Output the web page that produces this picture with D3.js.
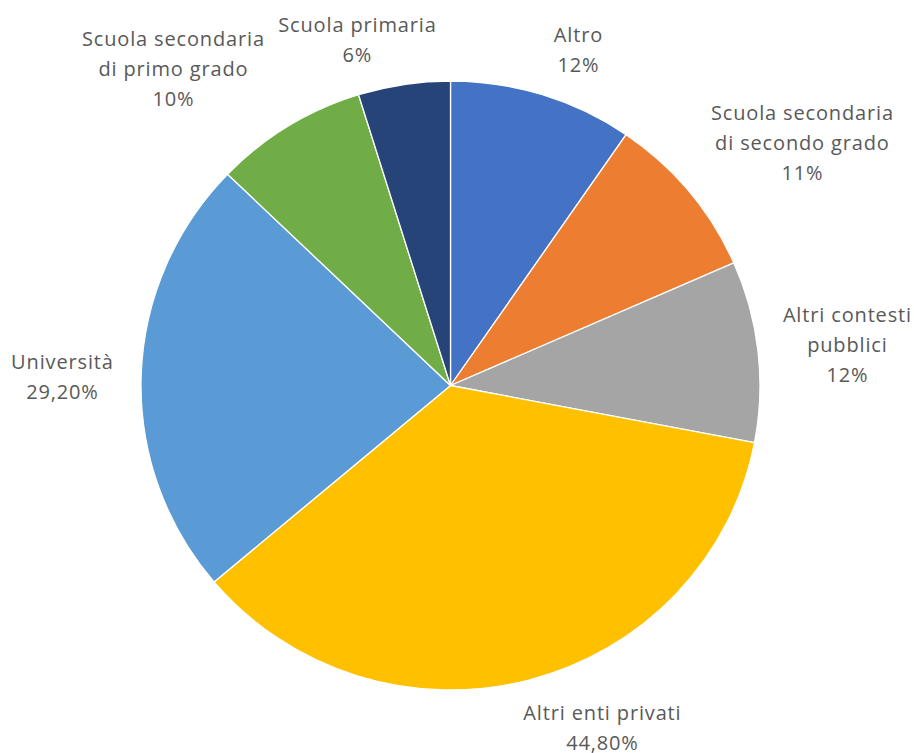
<!DOCTYPE html>
<html>
<head>
<meta charset="utf-8">
<script src="https://cdn.jsdelivr.net/npm/d3@7"></script>
<style>
  html, body { margin: 0; padding: 0; background: #ffffff; }
  svg { display: block; }
</style>
</head>
<body>
<svg id="chart" width="914" height="753"></svg>
<script>
const categories = [
  "Altro",
  "Scuola secondaria di secondo grado",
  "Altri contesti pubblici",
  "Altri enti privati",
  "Università",
  "Scuola secondaria di primo grado",
  "Scuola primaria"
];
const values = [12, 11, 12, 44.8, 29.2, 10, 6];
const valueLabels = ["12%", "11%", "12%", "44,80%", "29,20%", "10%", "6%"];
const labelLines = [
  ["Altro"],
  ["Scuola secondaria", "di secondo grado"],
  ["Altri contesti", "pubblici"],
  ["Altri enti privati"],
  ["Università"],
  ["Scuola secondaria", "di primo grado"],
  ["Scuola primaria"]
];
const colors = ["#4472C4", "#ED7D31", "#A5A5A5", "#FFC000", "#5B9BD5", "#70AD47", "#264478"];
// label anchor positions (centre of the text block, first line)
const labelPos = [
  [578, 35], [802, 113], [847, 315], [602, 713], [62, 362], [173, 39], [357, 25]
];

const svg = d3.select("#chart");
const cx = 450.5, cy = 385.5, R = 309.5, ry = 304.5;

const pie = d3.pie().sort(null).value(d => d)(values);
const arc = d3.arc().innerRadius(0).outerRadius(R);
const color = d3.scaleOrdinal().domain(categories).range(colors);

const g = svg.append("g")
  .attr("transform", `translate(${cx},${cy}) scale(1,${ry / R})`);

g.selectAll("path")
  .data(pie)
  .join("path")
  .attr("d", arc)
  .attr("fill", (d, i) => color(categories[i]))
  .attr("stroke", "#ffffff")
  .attr("stroke-width", 1.3)
  .attr("stroke-linejoin", "round");

const lineH = 30;
const ls = 0.85;
const labels = svg.append("g")
  .attr("font-family", "'Open Sans', sans-serif")
  .attr("font-size", 20)
  .attr("letter-spacing", ls)
  .attr("fill", "#595959")
  .attr("text-anchor", "middle");

categories.forEach((c, i) => {
  const lines = labelLines[i].concat([valueLabels[i]]);
  const t = labels.append("text")
    .attr("x", labelPos[i][0])
    .attr("y", labelPos[i][1]);
  lines.forEach((ln, k) => {
    t.append("tspan")
      .attr("x", labelPos[i][0] + ls / 2)
      .attr("y", labelPos[i][1] + k * lineH)
      .attr("dy", "0.35em")
      .text(ln);
  });
});
</script>
</body>
</html>
